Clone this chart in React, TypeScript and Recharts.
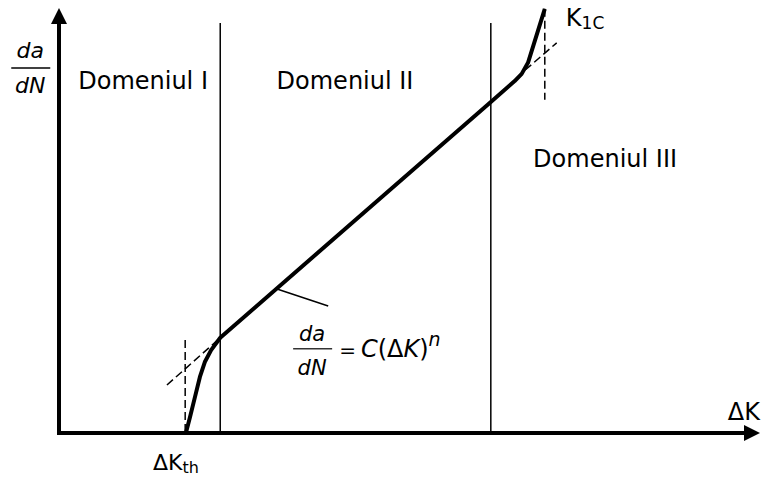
import { ComposedChart, Line, XAxis, YAxis, ReferenceLine, ReferenceDot } from 'recharts'

// schematic fatigue crack growth curve: ΔK on x, da/dN on y (both 0–100)
const growthCurve = [
  { k: 18.1, v: 0 },
  { k: 18.7, v: 3.8 },
  { k: 19.4, v: 8.5 },
  { k: 20.1, v: 13.2 },
  { k: 20.8, v: 16.7 },
  { k: 21.7, v: 19.5 },
  { k: 23.0, v: 22.4 },
  { k: 61.6, v: 77.9 },
  { k: 65.0, v: 82.8 },
  { k: 66.0, v: 84.5 },
  { k: 66.9, v: 87.1 },
  { k: 69.3, v: 99.8 },
]

// dashed asymptotes / tangents at both ends
const thresholdTangent = [{ k: 15.4, v: 11.3 }, { k: 23.0, v: 22.4 }]
const thresholdLimit = [{ k: 18.0, v: 21.9 }, { k: 18.0, v: 0 }]
const toughnessTangent = [{ k: 66.5, v: 85.4 }, { k: 71.0, v: 91.8 }]
const toughnessLimit = [{ k: 69.3, v: 99.8 }, { k: 69.3, v: 78.4 }]

// pointer from the straight part to the Paris law
const parisLeader = [{ k: 31.1, v: 33.9 }, { k: 38.4, v: 29.9 }]

const regionBounds = [23.0, 61.6]
const regionLabels = ['Domeniul I', 'Domeniul II', 'Domeniul III']

const font = '"DejaVu Sans", Verdana, sans-serif'

const text = (value: string, anchor: 'start' | 'middle' | 'end' = 'middle') => (p: any) => (
  <text x={p.cx} y={p.cy} textAnchor={anchor} fontSize={24} fontFamily={font} fill="#000">
    {value}
  </text>
)

const withSub = (main: string, sub: string, size = 24, subSize = 17) => (p: any) => (
  <text x={p.cx} y={p.cy} fontSize={size} fontFamily={font} fill="#000">
    {main}
    <tspan fontSize={subSize} dy={3}>{sub}</tspan>
  </text>
)

const fraction = (p: any) => (
  <g fontFamily={font} fontStyle="italic" fontSize={22} fill="#000">
    <text x={p.cx} y={p.cy - 10} textAnchor="middle">da</text>
    <line x1={p.cx - 19} x2={p.cx + 20} y1={p.cy} y2={p.cy} stroke="#000" strokeWidth={1.5} />
    <text x={p.cx} y={p.cy + 25} textAnchor="middle">dN</text>
  </g>
)

const parisLaw = (p: any) => (
  <g fontFamily={font} fill="#000">
    <text x={p.cx + 19} y={p.cy - 8} textAnchor="middle" fontSize={21} fontStyle="italic">da</text>
    <line x1={p.cx} x2={p.cx + 39} y1={p.cy} y2={p.cy} stroke="#333" strokeWidth={1.5} />
    <text x={p.cx + 19} y={p.cy + 26} textAnchor="middle" fontSize={21} fontStyle="italic">dN</text>
    <text x={p.cx + 46} y={p.cy + 8} fontSize={24}>
      <tspan fontSize={20}>=</tspan>
      <tspan dx={5} fontStyle="italic">C</tspan>
      <tspan>(Δ</tspan>
      <tspan fontStyle="italic">K</tspan>
      <tspan>)</tspan>
      <tspan fontStyle="italic" fontSize={19} dy={-11}>n</tspan>
    </text>
  </g>
)

const upArrow = (p: any) => (
  <polygon points={`${p.cx},${p.cy} ${p.cx - 8},${p.cy + 16} ${p.cx + 8},${p.cy + 16}`} fill="#000" />
)
const rightArrow = (p: any) => (
  <polygon points={`${p.cx},${p.cy} ${p.cx - 16},${p.cy - 8} ${p.cx - 16},${p.cy + 8}`} fill="#000" />
)

const dashed = { stroke: '#000', strokeWidth: 1.5, strokeDasharray: '8 4', dot: false, isAnimationActive: false }

export default function App() {
  return (
    <div style={{ position: 'absolute', left: 0, top: 0, background: '#fff' }}>
      <ComposedChart width={762} height={477} margin={{ top: 8, right: 2, bottom: 44, left: 59 }}>
        <XAxis hide type="number" dataKey="k" domain={[0, 100]} />
        <YAxis hide type="number" domain={[0, 100]} />

        {regionBounds.map((x) => (
          <ReferenceLine
            key={x}
            segment={[{ x, y: 0 }, { x, y: 96.5 }]}
            stroke="#000"
            strokeWidth={1.5}
          />
        ))}

        {/* axes with arrowheads */}
        <ReferenceLine segment={[{ x: 0, y: 0 }, { x: 0, y: 97 }]} stroke="#000" strokeWidth={4} strokeLinecap="square" />
        <ReferenceLine segment={[{ x: 0, y: 0 }, { x: 98, y: 0 }]} stroke="#000" strokeWidth={4} strokeLinecap="square" />
        <ReferenceDot x={0} y={100} shape={upArrow} ifOverflow="visible" />
        <ReferenceDot x={100} y={0} shape={rightArrow} ifOverflow="visible" />

        <Line data={thresholdTangent} dataKey="v" {...dashed} />
        <Line data={thresholdLimit} dataKey="v" {...dashed} />
        <Line data={toughnessTangent} dataKey="v" {...dashed} />
        <Line data={toughnessLimit} dataKey="v" {...dashed} />
        <Line data={parisLeader} dataKey="v" stroke="#000" strokeWidth={1.5} dot={false} isAnimationActive={false} />
        <Line
          data={growthCurve}
          dataKey="v"
          type="linear"
          stroke="#000"
          strokeWidth={4}
          strokeLinejoin="round"
          dot={false}
          isAnimationActive={false}
        />

        <ReferenceDot x={12.0} y={80.9} shape={text(regionLabels[0])} ifOverflow="visible" />
        <ReferenceDot x={40.8} y={80.9} shape={text(regionLabels[1])} ifOverflow="visible" />
        <ReferenceDot x={77.9} y={62.6} shape={text(regionLabels[2])} ifOverflow="visible" />
        <ReferenceDot x={72.3} y={95.8} shape={withSub('K', '1C')} ifOverflow="visible" />
        <ReferenceDot x={100} y={3.1} shape={text('ΔK', 'end')} ifOverflow="visible" />
        <ReferenceDot x={13.4} y={-8.7} shape={withSub('ΔK', 'th', 22, 16)} ifOverflow="visible" />
        <ReferenceDot x={-4.1} y={85.9} shape={fraction} ifOverflow="visible" />
        <ReferenceDot x={33.4} y={19.8} shape={parisLaw} ifOverflow="visible" />
      </ComposedChart>
    </div>
  )
}
